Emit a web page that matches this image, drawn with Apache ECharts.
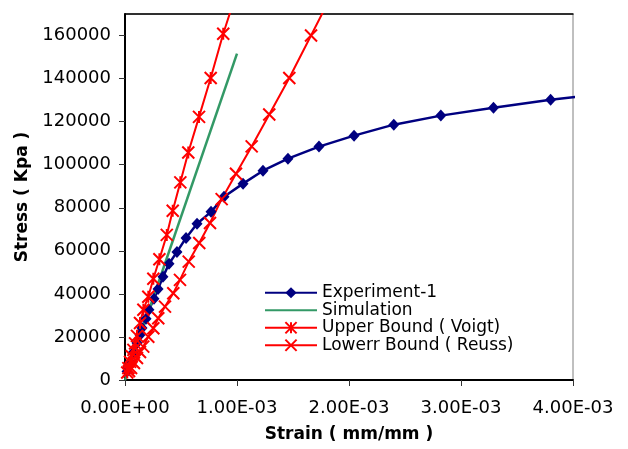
<!DOCTYPE html>
<html>
<head>
<meta charset="utf-8">
<script src="https://cdn.jsdelivr.net/npm/echarts@6/dist/echarts.min.js"></script>
<style>
  html, body { margin: 0; padding: 0; background: #fff; }
  #chart { width: 628px; height: 449px; }
</style>
</head>
<body>
<div id="chart"></div>
<script>
var seriesNames = ["Experiment-1", "Simulation", "Upper Bound ( Voigt)", "Lowerr Bound ( Reuss)"];

var expStrain = [0.000018, 0.000027, 0.000045, 0.000071, 0.000107, 0.000134, 0.000152, 0.000188, 0.000214, 0.000259, 0.000295, 0.000339, 0.000393, 0.000464, 0.000545, 0.000643, 0.000768, 0.000884, 0.001054, 0.001232, 0.001455, 0.001732, 0.002045, 0.0024, 0.00282, 0.00329, 0.0038, 0.004045];
var expStress = [4000, 6000, 8400, 12600, 17200, 20900, 24200, 28400, 32600, 37700, 42300, 47900, 54000, 59500, 66000, 72600, 78100, 85100, 91200, 97200, 102800, 108400, 113500, 118600, 122800, 126500, 130200, 131600];

var simStrain = [0, 0.001];
var simStress = [0, 151600];

var voigtStrain = [0.00002, 0.00003, 0.000045, 0.00006, 0.000075, 0.00009, 0.000107, 0.000134, 0.000164, 0.000208, 0.000253, 0.000307, 0.000373, 0.000426, 0.000494, 0.000565, 0.000661, 0.000765, 0.000877, 0.00099];
var voigtStress = [3500, 5500, 8400, 11000, 14000, 17000, 20500, 26500, 32600, 38700, 47000, 56100, 67400, 78600, 91800, 105700, 122200, 140300, 160800, 179000];

var reussStrain = [0.000036, 0.000054, 0.00008, 0.000107, 0.000134, 0.000163, 0.000208, 0.000253, 0.000297, 0.000357, 0.000431, 0.000491, 0.000569, 0.000663, 0.000759, 0.000863, 0.000991, 0.001131, 0.001288, 0.001467, 0.001661, 0.001854];
var reussStress = [4200, 5600, 7900, 10200, 13000, 15500, 20100, 24000, 28700, 34100, 40300, 46500, 55000, 63600, 72900, 84000, 95800, 108500, 123300, 140300, 160000, 179700];

var xTicks = [0, 0.001, 0.002, 0.003, 0.004];
var xTickLabels = ["0.00E+00", "1.00E-03", "2.00E-03", "3.00E-03", "4.00E-03"];
var yTickLabels = ["0", "20000", "40000", "60000", "80000", "100000", "120000", "140000", "160000"];

function zip(xs, ys) {
  return xs.map(function (x, i) { return [x, ys[i]]; });
}

var expData = zip(expStrain, expStress);
// last point runs just past the right edge, no marker shown there
expData[expData.length - 1] = { value: expData[expData.length - 1], symbolSize: 0 };

var font = "DejaVu Sans";
var chart = echarts.init(document.getElementById("chart"));
chart.setOption({
  animation: false,
  grid: {
    left: 125, right: 55, top: 14, bottom: 69,
    show: true, borderColor: "#808080", borderWidth: 1
  },
  legend: {
    orient: "vertical",
    left: 259,
    top: 279,
    itemWidth: 52,
    itemHeight: 14,
    itemGap: 0,
    data: [
      seriesNames[0],
      { name: seriesNames[1], itemStyle: { opacity: 0 } },
      seriesNames[2],
      seriesNames[3]
    ],
    textStyle: { color: "#000", fontSize: 17, fontFamily: font, lineHeight: 17.5 }
  },
  xAxis: [{
    type: "value",
    min: 0,
    max: 0.004,
    interval: 0.001,
    name: "Strain ( mm/mm )",
    nameLocation: "middle",
    nameGap: 46,
    nameTextStyle: { color: "#000", fontSize: 17, fontWeight: "bold", fontFamily: font },
    axisLine: { lineStyle: { color: "#000", width: 2 } },
    axisTick: { inside: false, length: 6, lineStyle: { color: "#333" } },
    splitLine: { show: false },
    axisLabel: {
      color: "#000", fontSize: 18, fontFamily: font, margin: 19,
      formatter: function (v) {
        for (var i = 0; i < xTicks.length; i++) {
          if (Math.abs(xTicks[i] - v) < 1e-9) return xTickLabels[i];
        }
        return "";
      }
    }
  }, {
    type: "value",
    position: "top",
    min: 0,
    max: 0.004,
    axisLine: { show: true, lineStyle: { color: "#000", width: 1.5 } },
    axisTick: { show: false },
    axisLabel: { show: false },
    splitLine: { show: false }
  }],
  yAxis: {
    type: "value",
    min: 0,
    max: 170000,
    interval: 20000,
    name: "Stress ( Kpa )",
    nameLocation: "middle",
    nameGap: 92,
    nameTextStyle: { color: "#000", fontSize: 17, fontWeight: "bold", fontFamily: font },
    axisLine: { show: true, lineStyle: { color: "#000", width: 2 } },
    axisTick: { inside: false, length: 6, lineStyle: { color: "#333" } },
    splitLine: { show: false },
    axisLabel: {
      color: "#000", fontSize: 18, fontFamily: font, margin: 14, showMaxLabel: false,
      formatter: function (v) {
        var i = Math.round(v / 20000);
        return yTickLabels[i] !== undefined && Math.abs(i * 20000 - v) < 1 ? yTickLabels[i] : "";
      }
    }
  },
  series: [{
    name: seriesNames[0],
    type: "line",
    data: expData,
    clip: false,
    symbol: "diamond",
    symbolSize: [11, 12],
    lineStyle: { color: "#000080", width: 2.5 },
    itemStyle: { color: "#000080" }
  }, {
    name: seriesNames[1],
    type: "line",
    data: zip(simStrain, simStress),
    symbol: "none",
    lineStyle: { color: "#339966", width: 2.5 },
    itemStyle: { color: "#339966" }
  }, {
    name: seriesNames[2],
    type: "line",
    data: zip(voigtStrain, voigtStress),
    symbol: "path://M0,0L10,10M10,0L0,10M5,0L5,10",
    symbolSize: 12,
    lineStyle: { color: "#ff0000", width: 2 },
    itemStyle: { color: "#ff0000", borderColor: "#ff0000", borderWidth: 2 }
  }, {
    name: seriesNames[3],
    type: "line",
    data: zip(reussStrain, reussStress),
    symbol: "path://M0,0L10,10M10,0L0,10",
    symbolSize: 12,
    lineStyle: { color: "#ff0000", width: 2 },
    itemStyle: { color: "#ff0000", borderColor: "#ff0000", borderWidth: 2 }
  }]
});
</script>
</body>
</html>
